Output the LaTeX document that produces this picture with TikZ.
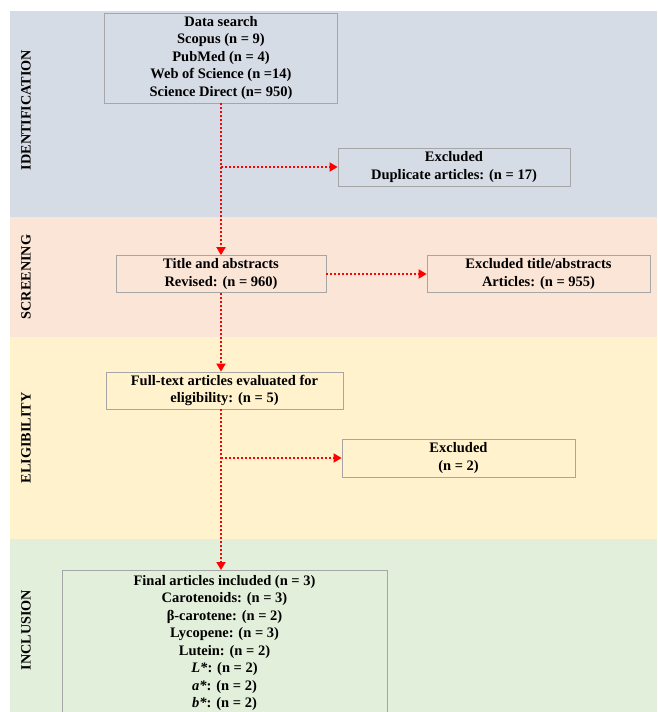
\documentclass[tikz,border=0pt]{standalone}
\usepackage{fontspec}
\setmainfont{Liberation Serif}
\usetikzlibrary{positioning}
\usetikzlibrary{arrows.meta}
\usetikzlibrary{calc}

\definecolor{idblue}{HTML}{D6DCE5}
\definecolor{scrpink}{HTML}{FBE5D6}
\definecolor{eliyellow}{HTML}{FFF2CC}
\definecolor{incgreen}{HTML}{E2EFDA}
\definecolor{boxgray}{HTML}{A6A6A6}

\begin{document}
\begin{tikzpicture}[ x = 1pt, y = -1pt
                   , align = center
                   , font = \bfseries\fontsize{14.5}{17.5}\selectfont
                   , >={Triangle[width=9pt, length=8pt]}
                   , box/.style = { rectangle
                                  , draw = boxgray
                                  , line width = 0.8pt
                                  , align = center
                                  , inner sep = 2pt }
                   , flow/.style = { draw = red
                                   , line width = 1.8pt
                                   , dash pattern = on 2pt off 2pt
                                   , -> }
                   , phase/.style = { rotate = 90
                                    , font = \bfseries\fontsize{14.2}{16}\selectfont }
                   ]

  %%
  %% Bands
  %%
  \clip (0,0) rectangle (657,712);
  \fill[white] (0,0) rectangle (657,712);
  \fill[idblue] (10,11) rectangle (657,217);
  \fill[scrpink] (10,217) rectangle (657,337);
  \fill[eliyellow] (10,337) rectangle (657,539);
  \fill[incgreen] (10,539) rectangle (657,712);

  \node (lid) [phase] at (26,110) {IDENTIFICATION};
  \node (lscr) [phase] at (26,277) {SCREENING};
  \node (lelig) [phase] at (26,438) {ELIGIBILITY};
  \node (lincl) [phase] at (26,630) {INCLUSION};

  %%
  %% Nodes
  %%
  \node (search) [box, minimum width = 233pt, minimum height = 90pt] at (221,58)
        {Data search\\ Scopus (n = 9)\\ PubMed (n = 4)\\ Web of Science (n =14)\\ Science Direct (n= 950)};
  \node (dup) [box, minimum width = 232pt, minimum height = 38pt] at (454,167)
        {Excluded\\ Duplicate articles: (n = 17)};
  \node (title) [box, minimum width = 210pt, minimum height = 37pt] at (221,274)
        {Title and abstracts\\ Revised: (n = 960)};
  \node (extitle) [box, minimum width = 223pt, minimum height = 37pt] at (538.5,274)
        {Excluded title/abstracts\\ Articles: (n = 955)};
  \node (full) [box, minimum width = 237pt, minimum height = 37pt] at (224.5,390.5)
        {Full-text articles evaluated for\\ eligibility: (n = 5)};
  \node (excl) [box, minimum width = 233pt, minimum height = 38pt] at (458.5,458)
        {Excluded\\ (n = 2)};
  \node (final) [box, anchor = north, minimum width = 325pt, inner ysep = 5pt] at (224.5,570)
        {Final articles included (n = 3)\\ Carotenoids: (n = 3)\\ β-carotene: (n = 2)\\
         Lycopene: (n = 3)\\ Lutein: (n = 2)\\ \textit{L*}: (n = 2)\\ \textit{a*}: (n = 2)\\
         \textit{b*}: (n = 2)};

  %%
  %% Flow (arrows)
  %%
  % Main line.
  \draw[flow] (search.south) -- (title.north);
  \draw[flow] (title.south) -- (title.south |- full.north);
  \draw[flow] (full.south -| title.south) -- (final.north -| title.south);
  % Exclusions.
  \coordinate (bdup) at (search.south |- dup.west);
  \coordinate (bexcl) at (title.south |- excl.west);
  \draw[flow] (bdup) -- (dup.west);
  \draw[flow] (title.east) -- (extitle.west);
  \draw[flow] (bexcl) -- (excl.west);
\end{tikzpicture}
\end{document}
